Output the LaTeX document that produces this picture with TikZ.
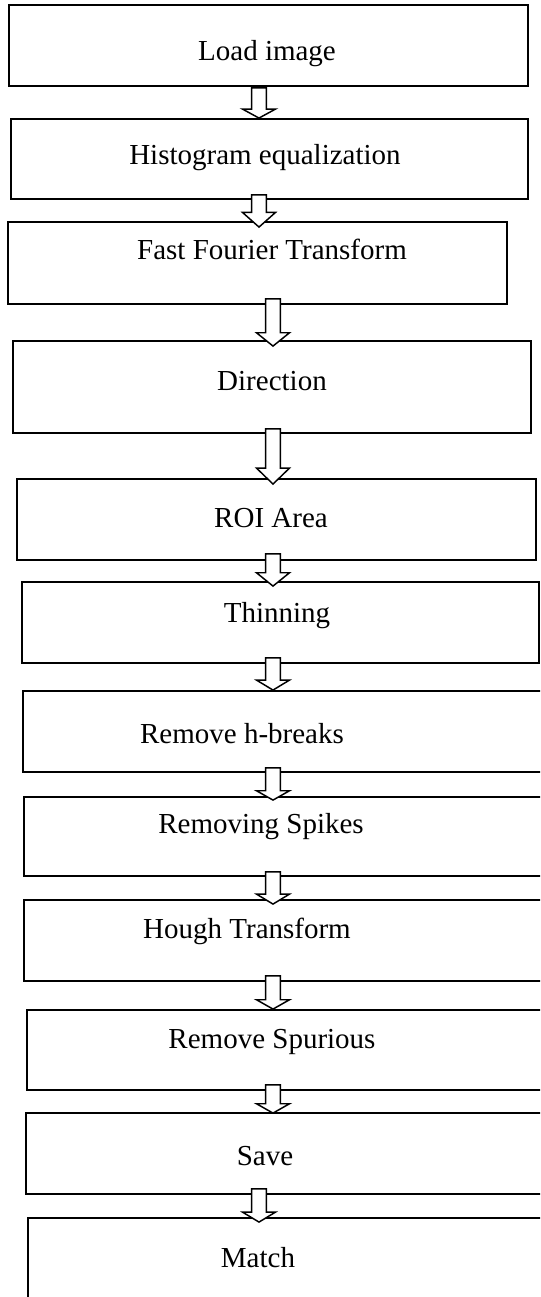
\documentclass[tikz,border=0pt]{standalone}
\usepackage{fontspec}
\setmainfont{Liberation Serif}
\usetikzlibrary{fit,calc}
\begin{document}
\begin{tikzpicture}[x=0.75pt,y=-0.75pt,
  box/.style={draw=black, line width=1.4pt, inner sep=0pt},
  lbl/.style={anchor=base, inner sep=0pt, font=\fontsize{21.75}{26}\selectfont},
  blockarrow/.style={draw=black, fill=white, line width=1.1pt, line join=miter,
    to path={let \p1=(\tikztostart), \p2=(\tikztotarget) in
      (\x1-5.6pt,\y1) -- (\x1-5.6pt,\y2+#1) -- (\x1-12.4pt,\y2+#1) -- (\x1,\y2)
      -- (\x1+12.4pt,\y2+#1) -- (\x1+5.6pt,\y2+#1) -- (\x1+5.6pt,\y1) -- cycle}},
  blockarrow/.default=7.5pt]
\clip (0,0) rectangle (540,1297);
\fill[white] (0,0) rectangle (540,1297);
% boxes
\node[box, fit={(9,5) (528,86)}] (b1) {};
\node[box, fit={(11,119) (528,199)}] (b2) {};
\node[box, fit={(8,222) (507,304)}] (b3) {};
\node[box, fit={(13,341) (531,433)}] (b4) {};
\node[box, fit={(17,479) (536,560)}] (b5) {};
\node[box, fit={(22,582) (539,663)}] (b6) {};
\node[box, fit={(23,691) (550,772)}] (b7) {};
\node[box, fit={(24,797) (550,876)}] (b8) {};
\node[box, fit={(24,900) (550,981)}] (b9) {};
\node[box, fit={(27,1010) (550,1090)}] (b10) {};
\node[box, fit={(26,1113) (550,1194)}] (b11) {};
\node[box, fit={(28,1218) (550,1310)}] (b12) {};
% labels
\node[lbl] (t1) at (267,60) {Load image};
\node[lbl] (t2) at (265,164) {Histogram equalization};
\node[lbl] (t3) at (272,259) {Fast Fourier Transform};
\node[lbl] (t4) at (272,390) {Direction};
\node[lbl] (t5) at (271,527) {ROI Area};
\node[lbl] (t6) at (277,622) {Thinning};
\node[lbl] (t7) at (242,743) {Remove h-breaks};
\node[lbl] (t8) at (261,833) {Removing Spikes};
\node[lbl] (t9) at (247,938) {Hough Transform};
\node[lbl] (t10) at (272,1048) {Remove Spurious};
\node[lbl] (t11) at (265,1165) {Save};
\node[lbl] (t12) at (258,1267) {Match};
% arrows
\draw[blockarrow=6.75pt] ($(259,0 |- b1.south)+(0,1)$) to ($(259,0 |- b2.north)+(0,0)$);
\draw[blockarrow=11pt] ($(259,0 |- b2.south)+(0,-5)$) to ($(259,0 |- b3.north)+(0,6)$);
\draw[blockarrow=10pt] ($(273,0 |- b3.south)+(0,-6)$) to ($(273,0 |- b4.north)+(0,6)$);
\draw[blockarrow=12pt] ($(273,0 |- b4.south)+(0,-5)$) to ($(273,0 |- b5.north)+(0,6)$);
\draw[blockarrow=10pt] ($(273,0 |- b5.south)+(0,-7)$) to ($(273,0 |- b6.north)+(0,5)$);
\draw[blockarrow=7.5pt] ($(273,0 |- b6.south)+(0,-6)$) to ($(273,0 |- b7.north)+(0,0)$);
\draw[blockarrow=7pt] ($(273,0 |- b7.south)+(0,-5)$) to ($(273,0 |- b8.north)+(0,4)$);
\draw[blockarrow=7.5pt] ($(273,0 |- b8.south)+(0,-5)$) to ($(273,0 |- b9.north)+(0,5)$);
\draw[blockarrow=7pt] ($(273,0 |- b9.south)+(0,-6)$) to ($(273,0 |- b10.north)+(0,0)$);
\draw[blockarrow=7pt] ($(273,0 |- b10.south)+(0,-6)$) to ($(273,0 |- b11.north)+(0,1)$);
\draw[blockarrow=7.5pt] ($(259,0 |- b11.south)+(0,-6)$) to ($(259,0 |- b12.north)+(0,5)$);
\end{tikzpicture}
\end{document}
